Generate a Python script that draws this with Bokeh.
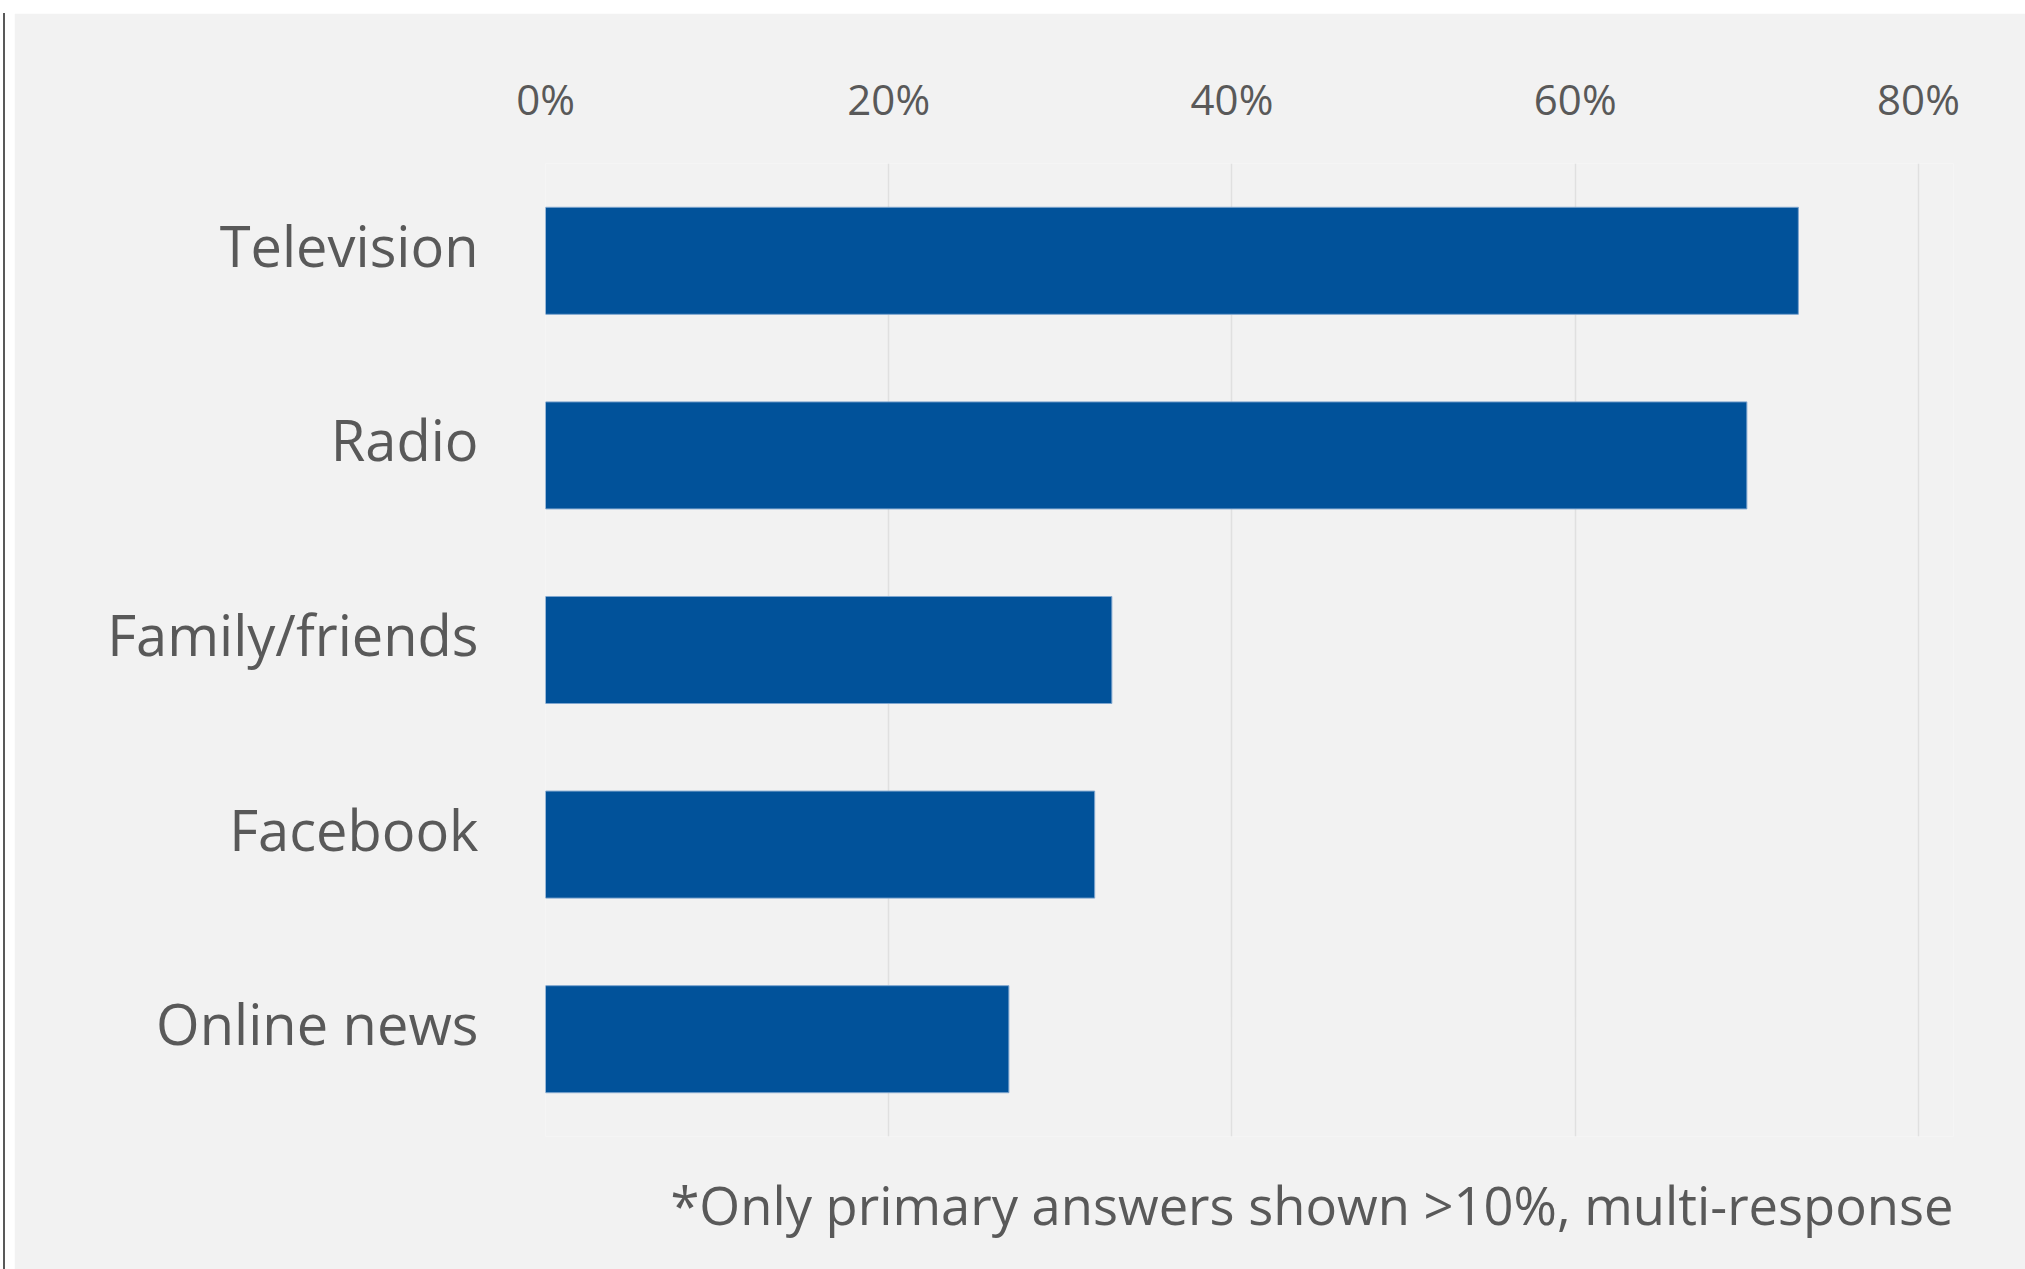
from bokeh.plotting import figure
from bokeh.models import (Range1d, FixedTicker, NumeralTickFormatter,
                          Div, Title, LinearAxis)
from bokeh.layouts import row
from bokeh.embed import file_html
from bokeh.resources import INLINE

categories = ["Television", "Radio", "Family/friends", "Facebook", "Online news"]
values = [0.73, 0.70, 0.33, 0.32, 0.27]
tick_values = [0.0, 0.2, 0.4, 0.6, 0.8]
footnote = "*Only primary answers shown >10%, multi-response"

TEXT = "#595959"
BG = "#F2F2F2"
BAR = "#01529A"

n = len(categories)
# slot centres, first category at the top
slots = [n - 1 - i + 0.5 for i in range(n)]
x_end = 0.8204

p = figure(
    width=2011, height=1256,
    y_range=Range1d(0, n),
    x_range=Range1d(0, x_end),
    x_axis_location="above", y_axis_location=None,
    output_backend="svg", toolbar_location=None,
    min_border_left=531, min_border_right=72,
    min_border_top=150, min_border_bottom=132,
    margin=(13, 0, 0, 9),
)
p.background_fill_color = BG
p.border_fill_color = BG
p.outline_line_color = None

p.hbar(y=slots, right=values, left=0, height=0.55,
       fill_color=BAR, line_color="#7FA6CF", line_width=1)

xa = p.xaxis[0]
xa.ticker = FixedTicker(ticks=tick_values)
xa.formatter = NumeralTickFormatter(format="0%")
xa.axis_line_color = None
xa.major_tick_line_color = None
xa.minor_tick_line_color = None
xa.major_tick_out = 0
xa.major_label_standoff = 37
xa.major_label_text_font = "Open Sans"
xa.major_label_text_font_size = "42px"
xa.major_label_text_color = TEXT

# category labels, nudged upward slightly like the original text boxes
shift = 0.082
label_pos = [round(s + shift, 3) for s in slots]
ya = LinearAxis(ticker=FixedTicker(ticks=label_pos, minor_ticks=[]),
                major_label_overrides={pos: name for pos, name in zip(label_pos, categories)})
ya.axis_line_color = None
ya.major_tick_line_color = None
ya.minor_tick_line_color = None
ya.major_tick_out = 0
ya.major_tick_in = 0
ya.major_label_standoff = 67
ya.major_label_text_font = "Open Sans"
ya.major_label_text_font_size = "56px"
ya.major_label_text_color = TEXT
p.add_layout(ya, "left")

p.xgrid.grid_line_color = "#E0E0E0"
p.xgrid.grid_line_width = 1.5
p.ygrid.grid_line_color = None

t = Title(text=footnote, align="right", text_font="Open Sans",
          text_font_size="52.5px", text_font_style="normal",
          text_color=TEXT, standoff=60)
p.add_layout(t, "below")

line_div = Div(text="", width=2, height=1256, margin=(13, 0, 0, 3),
               styles={"background-color": "#595959"})

layout = row(line_div, p)
open("out.html", "w").write(file_html(layout, INLINE))
